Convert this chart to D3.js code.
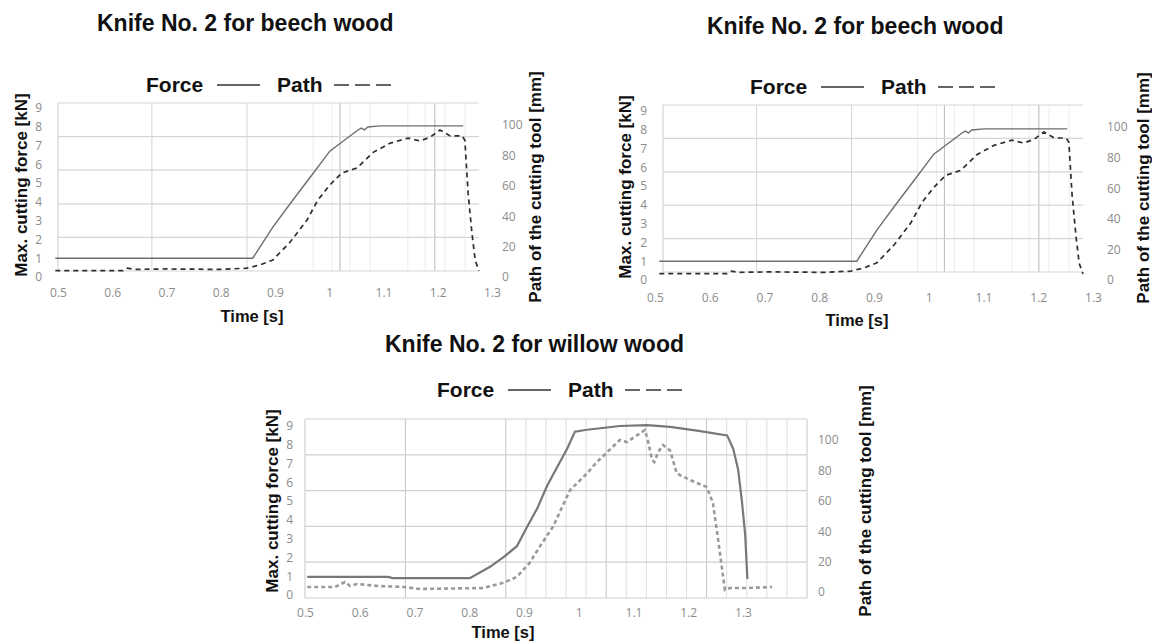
<!DOCTYPE html>
<html>
<head>
<meta charset="utf-8">
<script src="https://cdn.jsdelivr.net/npm/d3@7"></script>
<style>
  body { margin: 0; background: #fff; }
  svg { display: block; }
</style>
</head>
<body>
<svg id="chart" width="1152" height="643"></svg>
<script>
// tick labels
const timeTicks = [0.5, 0.6, 0.7, 0.8, 0.9, 1, 1.1, 1.2, 1.3];
const forceTicks = [0, 1, 2, 3, 4, 5, 6, 7, 8, 9];
const pathTicks = [0, 20, 40, 60, 80, 100];

// beech wood, force [kN]
const beechTime  = [0.495, 0.859, 0.896, 0.933, 0.968, 1.001, 1.053, 1.059, 1.065, 1.071, 1.094, 1.247];
const beechForce = [1.0,   1.0,   2.66,  4.1,   5.43,  6.7,   7.83,  7.93,  7.83,  7.99,  8.05,  8.05];
// beech wood, path [mm]
const beechPathTime = [0.495, 0.62, 0.628, 0.64, 0.7, 0.8, 0.848, 0.872, 0.896, 0.928, 0.959, 0.979, 1.001, 1.023, 1.051, 1.081, 1.112, 1.145, 1.167, 1.186, 1.204, 1.223, 1.245, 1.25, 1.256, 1.263, 1.269, 1.276];
const beechPath     = [4.2,   4.2,  5.8,   5.0,  5.3, 5.0, 5.8,   7.9,   11.2,  23,    37.5,  50.6,  60.5,  68.4,  71.7,  82,    88,    91.4,  89.5,  92,    96.7,  92.8,  92.8,  90,   55,    29,    11,    4];

// willow wood, force [kN]
const willowTime  = [0.504, 0.652, 0.66, 0.801, 0.838, 0.862, 0.887, 0.905, 0.924, 0.942, 0.953, 0.979, 0.993, 1.015, 1.075, 1.125, 1.167, 1.216, 1.271, 1.282, 1.291, 1.298, 1.304, 1.308];
const willowForce = [0.96,  0.96,  0.9,  0.9,   1.5,   2.0,   2.6,   3.6,   4.6,   5.8,   6.4,   7.8,   8.7,   8.8,   9.0,   9.05,  8.95,  8.75,  8.5,   7.8,   6.7,   5.0,   3.2,   0.85];
// willow wood, path [mm]
const willowPathTime = [0.504, 0.555, 0.573, 0.582, 0.595, 0.632, 0.68, 0.71, 0.825, 0.862, 0.887, 0.91, 0.929, 0.953, 0.984, 1.015, 1.033, 1.052, 1.075, 1.088, 1.106, 1.121, 1.126, 1.134, 1.138, 1.145, 1.154, 1.167, 1.179, 1.203, 1.234, 1.245, 1.254, 1.262, 1.267, 1.276, 1.307, 1.353];
const willowPath     = [3.3,   3.3,   6.6,   4.0,   5.3,   4.0,   3.3,  2.0,  2.6,   6,     10,    19,   30,    43,    67,    78,    85.5,  92,    100,   98.7,  103,   106.6, 100,   87,    85.5,  92,    96.7,  93,    78,    73.7,  69,    58.6,  36,    14.5,  1.3,   2.6,   2.6,   3.3];

// vertical grid lines, as share of plot width
const beechGridMajor = [0.223, 0.449];
const beechGridDark  = [0.670, 0.895];
const beechGridMinor = [0.606, 0.651, 0.694, 0.741, 0.831, 0.872, 0.919, 0.967];
const willowGridMajor = [0.2, 0.4, 0.6, 0.8];
const willowGridMinor = [0.44, 0.48, 0.52, 0.56, 0.64, 0.68, 0.72, 0.76, 0.84, 0.88, 0.92, 0.96];

const svg = d3.select("#chart");
const boldFont = "'Liberation Sans', Arial, sans-serif";
const tickFont = "'Open Sans', sans-serif";

function drawChart(c) {
  const g = svg.append("g");
  const xTick = d3.scaleLinear().domain([0.5, 1.3]).range(c.tickX);
  const x = d3.scaleLinear().domain([0.5, 1.3]).range(c.dataX);
  const yF = d3.scaleLinear().domain([0, 9]).range(c.forceY);
  const yP = d3.scaleLinear().domain([0, 100]).range(c.pathY);
  const gx = d3.scaleLinear().domain([0, 1]).range([c.plot.x0, c.plot.x1]);
  const gy = d3.scaleLinear().domain([0, 5]).range([c.plot.y1, c.plot.y0]);

  // grid
  const vlines = (vals, color) => g.append("g").selectAll("line").data(vals).join("line")
    .attr("x1", d => gx(d)).attr("x2", d => gx(d))
    .attr("y1", c.plot.y0).attr("y2", c.plot.y1)
    .attr("stroke", color).attr("stroke-width", 1);
  vlines(c.gridMinor, c.minorColor);
  vlines(c.gridMajor, c.majorColor);
  vlines(c.gridDark, c.darkColor);
  g.append("g").selectAll("line").data([0, 1, 2, 3, 4, 5]).join("line")
    .attr("x1", c.plot.x0).attr("x2", c.plot.x1)
    .attr("y1", d => gy(d)).attr("y2", d => gy(d))
    .attr("stroke", c.hColor).attr("stroke-width", 1.2);
  g.append("line").attr("x1", c.plot.x0).attr("x2", c.plot.x0)
    .attr("y1", c.plot.y0).attr("y2", c.plot.y1).attr("stroke", c.hColor).attr("stroke-width", 1.2);
  if (c.rightBorder) {
    g.append("line").attr("x1", c.plot.x1).attr("x2", c.plot.x1)
      .attr("y1", c.plot.y0).attr("y2", c.plot.y1).attr("stroke", c.hColor).attr("stroke-width", 1.2);
  }

  // axes
  const styleAxis = (a) => {
    a.select(".domain").remove();
    a.selectAll("line").remove();
    a.selectAll("text").attr("fill", "#8c8c8c").style("font-family", tickFont).style("font-size", "12px");
  };
  g.append("g").attr("transform", `translate(0,${c.xLabelY})`)
    .call(d3.axisBottom(xTick).tickValues(timeTicks).tickSize(0).tickPadding(0).tickFormat(d => String(d)))
    .call(styleAxis);
  g.append("g").attr("transform", `translate(${c.leftLabelX},0)`)
    .call(d3.axisLeft(yF).tickValues(forceTicks).tickSize(0).tickPadding(0))
    .call(styleAxis);
  g.append("g").attr("transform", `translate(${c.rightLabelX},0)`)
    .call(d3.axisRight(yP).tickValues(pathTicks).tickSize(0).tickPadding(0))
    .call(styleAxis);

  // series
  const forceData = c.time.map((t, i) => [t, c.force[i]]);
  const pathData = c.pathTime.map((t, i) => [t, c.path[i]]);
  g.append("path").datum(forceData)
    .attr("d", d3.line().x(d => x(d[0])).y(d => yF(d[1])))
    .attr("fill", "none").attr("stroke", c.forceColor).attr("stroke-width", c.forceWidth);
  g.append("path").datum(pathData)
    .attr("d", d3.line().x(d => x(d[0])).y(d => yP(d[1])))
    .attr("fill", "none").attr("stroke", c.pathColor).attr("stroke-width", c.pathWidth)
    .attr("stroke-dasharray", c.pathDash);

  // titles
  g.append("text").attr("x", c.title[0]).attr("y", c.title[1]).text(c.titleText)
    .style("font-family", boldFont).style("font-weight", "bold").style("font-size", "23px").attr("fill", "#111");
  const lg = g.append("g").attr("transform", `translate(${c.legend[0]},${c.legend[1]})`);
  lg.append("text").attr("x", 0).attr("y", 0).text("Force")
    .style("font-family", boldFont).style("font-weight", "bold").style("font-size", "21px").attr("fill", "#111");
  lg.append("line").attr("x1", 71).attr("x2", 114).attr("y1", -7).attr("y2", -7)
    .attr("stroke", "#333").attr("stroke-width", 1.4);
  lg.append("text").attr("x", 131).attr("y", 0).text("Path")
    .style("font-family", boldFont).style("font-weight", "bold").style("font-size", "21px").attr("fill", "#111");
  lg.append("line").attr("x1", 188).attr("x2", 245).attr("y1", -7).attr("y2", -7)
    .attr("stroke", "#333").attr("stroke-width", 1.4).attr("stroke-dasharray", "15,6");

  const axTitle = (sel) => sel.style("font-family", boldFont).style("font-weight", "bold")
    .style("font-size", "17px").attr("fill", "#111").attr("text-anchor", "middle");
  g.append("text").attr("transform", `translate(${c.forceTitle[0]},${c.forceTitle[1]}) rotate(-90)`)
    .text("Max. cutting force [kN]").call(axTitle);
  g.append("text").attr("transform", `translate(${c.pathTitle[0]},${c.pathTitle[1]}) rotate(-90)`)
    .text("Path of the cutting tool [mm]").call(axTitle);
  g.append("text").attr("x", c.timeTitle[0]).attr("y", c.timeTitle[1])
    .text("Time [s]").call(axTitle).style("font-size", "16.5px");
}

const beechStyle = {
  time: beechTime, force: beechForce, pathTime: beechPathTime, path: beechPath,
  gridMajor: beechGridMajor, gridDark: beechGridDark, gridMinor: beechGridMinor,
  minorColor: "#ececec", majorColor: "#d4d4d4", darkColor: "#b9b9b9", hColor: "#d6d6d6",
  rightBorder: false,
  forceColor: "#6e6e6e", forceWidth: 1.4, pathColor: "#2e2e2e", pathWidth: 1.7, pathDash: "5,4",
  titleText: "Knife No. 2 for beech wood"
};

drawChart(Object.assign({}, beechStyle, {
  tickX: [58, 492], dataX: [58, 492], forceY: [277, 108], pathY: [277, 125],
  plot: { x0: 58, x1: 479, y0: 103, y1: 271 },
  xLabelY: 288, leftLabelX: 42, rightLabelX: 502,
  title: [97, 31], legend: [146, 92],
  forceTitle: [27, 185], pathTitle: [541, 187], timeTitle: [252, 322]
}));

drawChart(Object.assign({}, beechStyle, {
  tickX: [655, 1093], dataX: [662, 1096], forceY: [280, 111], pathY: [280, 127],
  plot: { x0: 663, x1: 1083, y0: 105, y1: 272 },
  xLabelY: 293, leftLabelX: 647, rightLabelX: 1107,
  title: [707, 34], legend: [750, 94],
  forceTitle: [631, 187], pathTitle: [1149, 188], timeTitle: [857, 326]
}));

drawChart({
  time: willowTime, force: willowForce, pathTime: willowPathTime, path: willowPath,
  gridMajor: willowGridMajor, gridDark: [], gridMinor: willowGridMinor,
  minorColor: "#dedede", majorColor: "#c4c4c4", darkColor: "#b9b9b9", hColor: "#cfcfcf",
  rightBorder: true,
  forceColor: "#777777", forceWidth: 2.2, pathColor: "#9a9a9a", pathWidth: 2.6, pathDash: "4,3",
  titleText: "Knife No. 2 for willow wood",
  tickX: [305, 743], dataX: [305, 743], forceY: [595, 426], pathY: [592, 440],
  plot: { x0: 305, x1: 807, y0: 419, y1: 598 },
  xLabelY: 608, leftLabelX: 293, rightLabelX: 818,
  title: [385, 352], legend: [437, 397],
  forceTitle: [278, 501], pathTitle: [871, 501], timeTitle: [503, 638]
});
</script>
</body>
</html>
